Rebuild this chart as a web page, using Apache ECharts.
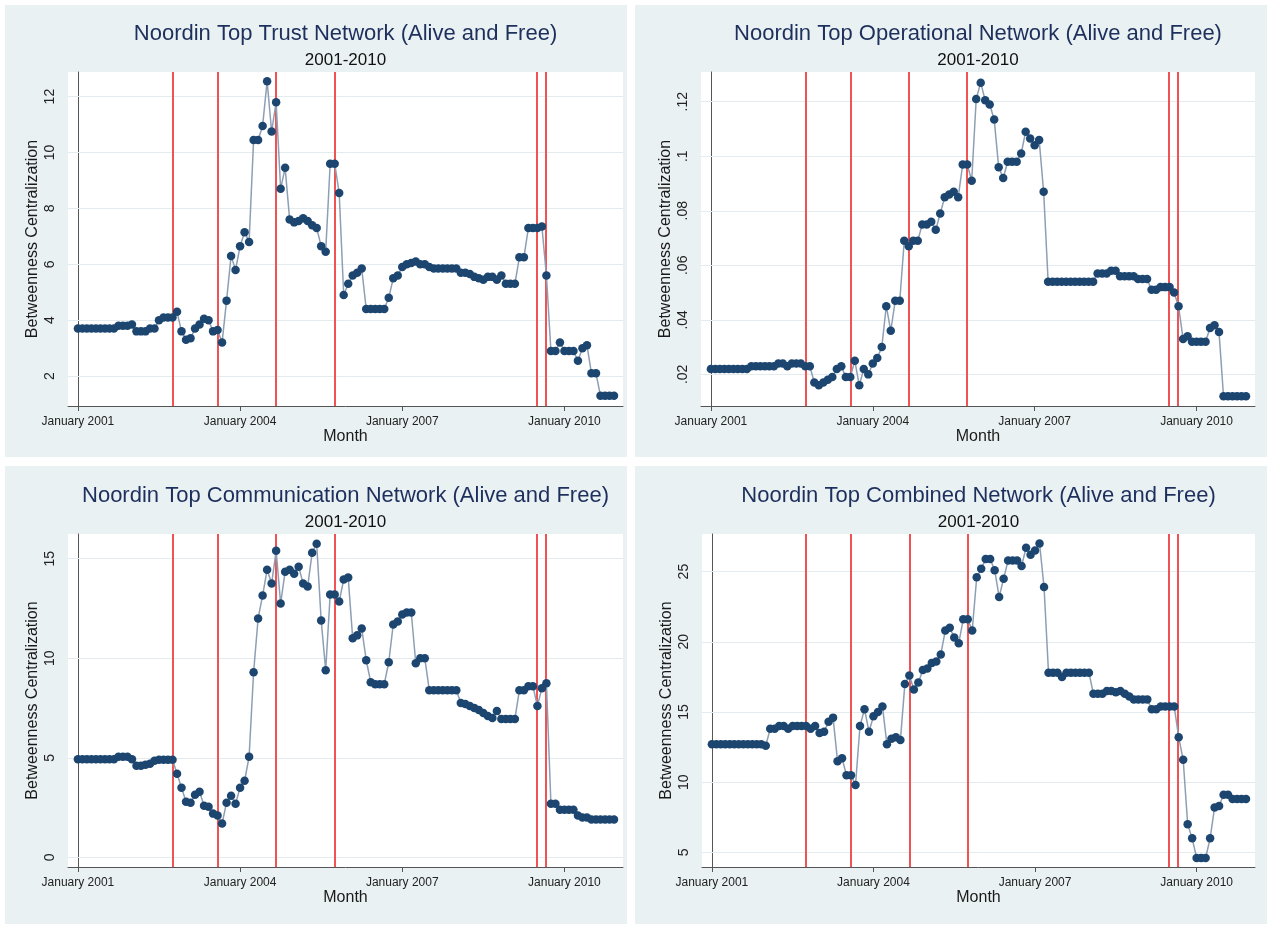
<!DOCTYPE html>
<html><head><meta charset="utf-8">
<script src="https://cdn.jsdelivr.net/npm/echarts@6/dist/echarts.min.js"></script>
<style>html,body{margin:0;padding:0;background:#fff}#c{width:1270px;height:926px}</style>
</head><body><div id="c"></div>
<script>
// ---- data (monthly, index 0 = January 2001) ----
const xTickMonths = [0, 36, 72, 108];
const xTickLabels = ['January 2001', 'January 2004', 'January 2007', 'January 2010'];
const eventMonths = [21, 31, 44, 57, 101.8, 103.8];

const trust = [
  3.7,3.7,3.7,3.7,3.7,3.7,3.7,3.7,3.7,3.8,3.8,3.8,3.85,3.6,3.6,3.6,3.7,3.7,4.0,4.1,4.1,4.1,
  4.3,3.6,3.3,3.35,3.7,3.85,4.05,4.0,3.6,3.65,3.2,4.7,6.3,5.8,6.65,7.15,6.8,10.45,10.45,10.95,
  12.55,10.75,11.8,8.7,9.45,7.6,7.5,7.55,7.65,7.55,7.4,7.3,6.65,6.45,9.6,9.6,8.55,4.9,5.3,5.6,5.7,5.85,
  4.4,4.4,4.4,4.4,4.4,4.8,5.5,5.6,5.9,6.0,6.05,6.1,6.0,6.0,5.9,5.85,5.85,5.85,5.85,5.85,5.85,
  5.7,5.7,5.65,5.55,5.5,5.45,5.55,5.55,5.45,5.6,5.3,5.3,5.3,6.25,6.25,7.3,7.3,7.3,7.35,5.6,
  2.9,2.9,3.2,2.9,2.9,2.9,2.55,3.0,3.1,2.1,2.1,1.3,1.3,1.3,1.3
];
const operational = [
  0.022,0.022,0.022,0.022,0.022,0.022,0.022,0.022,0.022,0.023,0.023,0.023,0.023,0.023,0.023,
  0.024,0.024,0.023,0.024,0.024,0.024,0.023,0.023,
  0.017,0.016,0.017,0.018,0.019,0.022,0.023,0.019,0.019,0.025,0.016,0.022,0.020,0.024,0.026,0.030,
  0.045,0.036,0.047,0.047,0.069,0.067,0.069,0.069,0.075,0.075,0.076,0.073,0.079,0.085,0.086,0.087,
  0.085,0.097,0.097,0.091,0.121,0.127,0.1205,0.119,0.1135,0.096,0.092,0.098,0.098,0.098,0.101,
  0.109,0.1065,0.104,0.106,0.087,
  0.054,0.054,0.054,0.054,0.054,0.054,0.054,0.054,0.054,0.054,0.054,0.057,0.057,0.057,0.058,0.058,
  0.056,0.056,0.056,0.056,0.055,0.055,0.055,0.051,0.051,0.052,0.052,0.052,0.050,0.045,0.033,0.034,
  0.032,0.032,0.032,0.032,0.037,0.038,0.0355,0.012,0.012,0.012,0.012,0.012,0.012
];
const communication = [
  4.93,4.93,4.93,4.93,4.93,4.93,4.93,4.93,4.93,5.05,5.05,5.05,4.93,4.6,4.6,4.65,4.7,4.85,4.9,4.9,4.9,4.9,
  4.2,3.5,2.8,2.75,3.15,3.3,2.6,2.55,2.2,2.1,1.7,2.75,3.1,2.7,3.5,3.85,5.05,9.3,12.0,13.15,14.45,13.75,
  15.4,12.75,14.35,14.45,14.25,14.6,13.75,13.6,15.3,15.75,11.9,9.4,13.2,13.2,12.85,13.95,14.05,11.0,
  11.15,11.5,9.9,8.8,8.7,8.7,8.7,9.8,11.7,11.85,12.2,12.3,12.3,9.75,10.0,10.0,
  8.4,8.4,8.4,8.4,8.4,8.4,8.4,7.75,7.7,7.6,7.5,7.4,7.25,7.1,7.0,7.35,6.95,6.95,6.95,6.95,
  8.4,8.4,8.6,8.6,7.6,8.5,8.75,2.7,2.7,2.4,2.4,2.4,2.4,2.1,2.0,2.0,1.9,1.9,1.9,1.9,1.9,1.9
];
const combined = [
  12.7,12.7,12.7,12.7,12.7,12.7,12.7,12.7,12.7,12.7,12.7,12.7,12.6,13.8,13.8,14.0,14.0,13.8,
  14.0,14.0,14.0,14.0,13.8,14.0,13.5,13.6,14.3,14.6,11.5,11.7,10.5,10.5,9.8,14.0,15.2,13.6,14.7,
  15.0,15.4,12.7,13.1,13.2,13.0,17.0,17.6,16.6,17.1,18.0,18.1,18.5,18.6,19.1,20.8,21.0,20.3,19.9,
  21.6,21.6,20.8,24.6,25.2,25.9,25.9,25.1,23.2,24.5,25.8,25.8,25.8,25.4,26.7,26.2,26.5,27.0,23.9,
  17.8,17.8,17.8,17.5,17.8,17.8,17.8,17.8,17.8,17.8,16.3,16.3,16.3,16.5,16.5,16.4,16.5,16.3,16.1,
  15.9,15.9,15.9,15.9,15.2,15.2,15.4,15.4,15.4,15.4,13.2,11.6,7.0,6.0,4.6,4.6,4.6,6.0,8.2,8.3,
  9.1,9.1,8.8,8.8,8.8,8.8
];
const trustTicks = [2, 4, 6, 8, 10, 12];
const trustTickLabels = ['2', '4', '6', '8', '10', '12'];
const operTicks = [0.02, 0.04, 0.06, 0.08, 0.1, 0.12];
const operTickLabels = ['.02', '.04', '.06', '.08', '.1', '.12'];
const commTicks = [0, 5, 10, 15];
const commTickLabels = ['0', '5', '10', '15'];
const combTicks = [5, 10, 15, 20, 25];
const combTickLabels = ['5', '10', '15', '20', '25'];

const titles = [
  'Noordin Top Trust Network (Alive and Free)',
  'Noordin Top Operational Network (Alive and Free)',
  'Noordin Top Communication Network (Alive and Free)',
  'Noordin Top Combined Network (Alive and Free)'
];
const subtitle = '2001-2010';
const xName = 'Month';
const yName = 'Betweenness Centralization';

// ---- layout / style ----
const FONT = '"Liberation Sans", Arial, Helvetica, sans-serif';
const panels = [
  {data: trust, ticks: trustTicks, labels: trustTickLabels, ymin: 0.93, ymax: 12.88,
   grid: {left: 68, top: 72, width: 555, height: 334}, tx: 345.5, ty: 33.5},
  {data: operational, ticks: operTicks, labels: operTickLabels, ymin: 0.0084, ymax: 0.1309,
   grid: {left: 701, top: 72, width: 554, height: 334}, tx: 978, ty: 33.5},
  {data: communication, ticks: commTicks, labels: commTickLabels, ymin: -0.48, ymax: 16.24,
   grid: {left: 68, top: 534, width: 555, height: 333}, tx: 345.5, ty: 495.5},
  {data: combined, ticks: combTicks, labels: combTickLabels, ymin: 3.96, ymax: 27.68,
   grid: {left: 702, top: 534, width: 553, height: 333}, tx: 978.5, ty: 495.5}
];

const grids = [], xAxes = [], yAxes = [], series = [], graphics = [];
// white gaps between panels
[[0,0,1270,5],[0,0,5,926],[627,0,8,926],[0,457,1270,9],[1267,0,3,926],[0,924,1270,2]].forEach(r => {
  graphics.push({type: 'rect', shape: {x: r[0], y: r[1], width: r[2], height: r[3]}, style: {fill: '#ffffff'}, z: 0, silent: true});
});

panels.forEach((p, i) => {
  grids.push(Object.assign({show: true, backgroundColor: '#ffffff', borderWidth: 0}, p.grid));
  xAxes.push({
    type: 'value', gridIndex: i, min: -2.2, max: 121,
    name: xName, nameLocation: 'middle', nameGap: 23,
    nameTextStyle: {fontFamily: FONT, fontSize: 16, color: '#1a1a1a'},
    axisLine: {show: true, onZero: false, lineStyle: {color: '#555', width: 1}},
    axisTick: {show: true, length: 5, customValues: xTickMonths, lineStyle: {color: '#555'}},
    axisLabel: {show: true, customValues: xTickMonths, margin: 10, fontFamily: FONT, fontSize: 12, color: '#222',
      formatter: v => { const k = xTickMonths.indexOf(v); return k >= 0 ? xTickLabels[k] : ''; }},
    splitLine: {show: false}
  });
  yAxes.push({
    type: 'value', gridIndex: i, min: p.ymin, max: p.ymax,
    name: yName, nameLocation: 'middle', nameGap: 27, nameRotate: 90,
    nameTextStyle: {fontFamily: FONT, fontSize: 16, color: '#1a1a1a'},
    axisLine: {show: true, lineStyle: {color: '#555', width: 1}},
    axisTick: {show: true, length: 5, customValues: p.ticks, lineStyle: {color: '#555'}},
    axisLabel: {show: true, customValues: p.ticks, rotate: 90, margin: 11, fontFamily: FONT, fontSize: 14, color: '#222',
      formatter: v => { let k = -1; p.ticks.forEach((t, j) => { if (Math.abs(t - v) < 1e-9) k = j; }); return k >= 0 ? p.labels[k] : ''; }},
    splitLine: {show: false}
  });
  const pts = p.data.map((v, m) => [m, v]);
  const mk = [];
  p.ticks.forEach(t => mk.push({yAxis: t, lineStyle: {color: '#e3ebee', width: 1, type: 'solid'}}));
  eventMonths.forEach(e => mk.push({xAxis: e, lineStyle: {color: '#ef5353', width: 2, type: 'solid'}}));
  series.push({
    type: 'line', xAxisIndex: i, yAxisIndex: i, data: pts, z: 1, silent: true,
    symbol: 'none', lineStyle: {opacity: 0},
    markLine: {z: 1, silent: true, symbol: ['none', 'none'], label: {show: false}, animation: false, data: mk}
  });
  series.push({
    type: 'line', xAxisIndex: i, yAxisIndex: i, data: pts, z: 3,
    symbol: 'circle', symbolSize: 8.5, showAllSymbol: true,
    itemStyle: {color: '#1c4670'},
    lineStyle: {color: '#8d9fb4', width: 1.5}
  });
  graphics.push({type: 'text', z: 10, silent: true,
    style: {text: titles[i], x: p.tx, y: p.ty, textAlign: 'center', textVerticalAlign: 'middle', align: 'center', verticalAlign: 'middle',
      font: '22px ' + FONT, fill: '#1d2f5c'}});
  graphics.push({type: 'text', z: 10, silent: true,
    style: {text: subtitle, x: p.tx, y: p.ty + 26.5, textAlign: 'center', textVerticalAlign: 'middle', align: 'center', verticalAlign: 'middle',
      font: '17px ' + FONT, fill: '#111'}});
});

const chart = echarts.init(document.getElementById('c'), null, {renderer: 'canvas'});
chart.setOption({
  animation: false,
  backgroundColor: '#eaf1f3',
  grid: grids, xAxis: xAxes, yAxis: yAxes, series: series,
  graphic: graphics
});
</script></body></html>
